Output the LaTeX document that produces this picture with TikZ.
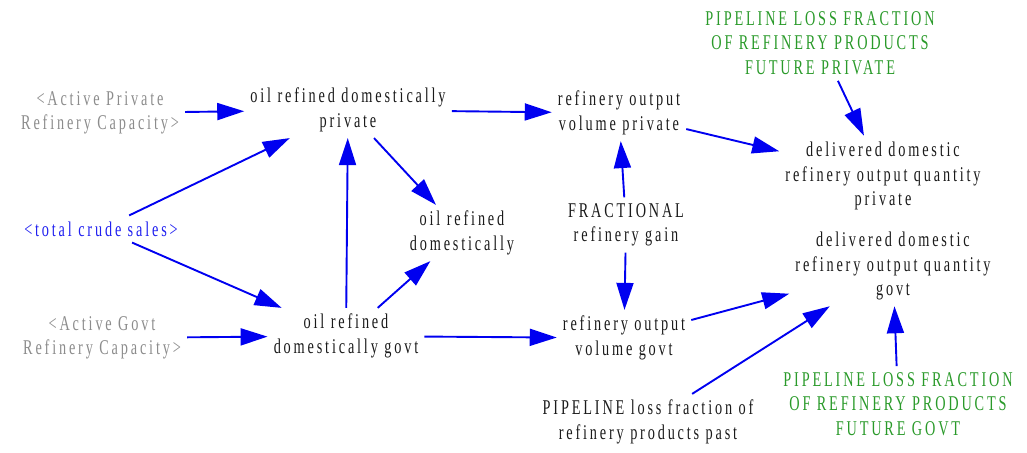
\documentclass[tikz,border=0pt]{standalone}
\usepackage{fontspec}
\usetikzlibrary{arrows.meta}
\newfontfamily\vensimfont[FakeStretch=0.68,LetterSpace=13.5]{Liberation Serif}
\definecolor{Ink}{HTML}{1A1A1A}
\definecolor{Link}{HTML}{0000F0}
\definecolor{Shadow}{HTML}{8C8C8C}
\definecolor{Const}{HTML}{2A9A2A}
\definecolor{Crude}{HTML}{2020F0}

\begin{document}
\begin{tikzpicture}[x=1pt,y=-1pt,
  var/.style={align=center,font=\vensimfont\fontsize{21}{24.5}\selectfont,inner sep=6pt,text=Ink},
  shadowvar/.style={var,text=Shadow},
  constvar/.style={var,text=Const},
  link/.style={draw=Link,line width=1.9pt,-{Triangle[length=27pt,width=17pt]}}]
  \useasboundingbox (0,0) rectangle (1027,452);
  % left column
  \node[shadowvar] (actpriv) at (100,113) {<Active Private\\Refinery Capacity>};
  \node[var,text=Crude] (crude) at (101,229) {<total crude sales>};
  \node[shadowvar] (actgovt) at (102,338) {<Active Govt\\Refinery Capacity>};
  % oil refined
  \node[var] (oilpriv) at (348,110) {oil refined domestically\\private};
  \node[var] (oildom) at (462,233) {oil refined\\domestically};
  \node[var] (oilgovt) at (346,336) {oil refined\\domestically govt};
  % refinery output
  \node[var] (refpriv) at (619,113) {refinery output\\volume private};
  \node[var] (gain) at (626,225) {FRACTIONAL\\refinery gain};
  \node[var] (refgovt) at (624,338) {refinery output\\volume govt};
  \node[var] (losspast) at (648,422) {PIPELINE loss fraction of\\refinery products past};
  % delivered
  \node[constvar] (losspriv) at (820,43) {PIPELINE LOSS FRACTION\\OF REFINERY PRODUCTS\\FUTURE PRIVATE};
  \node[var] (delpriv) at (883,176) {delivered domestic\\refinery output quantity\\private};
  \node[var] (delgovt) at (893,266) {delivered domestic\\refinery output quantity\\govt};
  \node[constvar] (lossgovt) at (898,404) {PIPELINE LOSS FRACTION\\OF REFINERY PRODUCTS\\FUTURE GOVT};

  \draw[link] (actpriv) -- (oilpriv);
  \draw[link] (crude) -- (oilpriv);
  \draw[link] (crude) -- (oilgovt);
  \draw[link] (actgovt) -- (oilgovt);
  \draw[link] (oilgovt) -- (oilpriv);
  \draw[link] (oilpriv) -- (oildom);
  \draw[link] (oilgovt) -- (oildom);
  \draw[link] (oilpriv) -- (refpriv);
  \draw[link] (oilgovt) -- (refgovt);
  \draw[link] (gain) -- (refpriv);
  \draw[link] (gain) -- (refgovt);
  \draw[link] (refpriv) -- (delpriv);
  \draw[link] (losspriv) -- (delpriv);
  \draw[link] (refgovt) -- (delgovt);
  \draw[link] (losspast) -- (delgovt);
  \draw[link] (lossgovt) -- (delgovt);
\end{tikzpicture}
\end{document}
